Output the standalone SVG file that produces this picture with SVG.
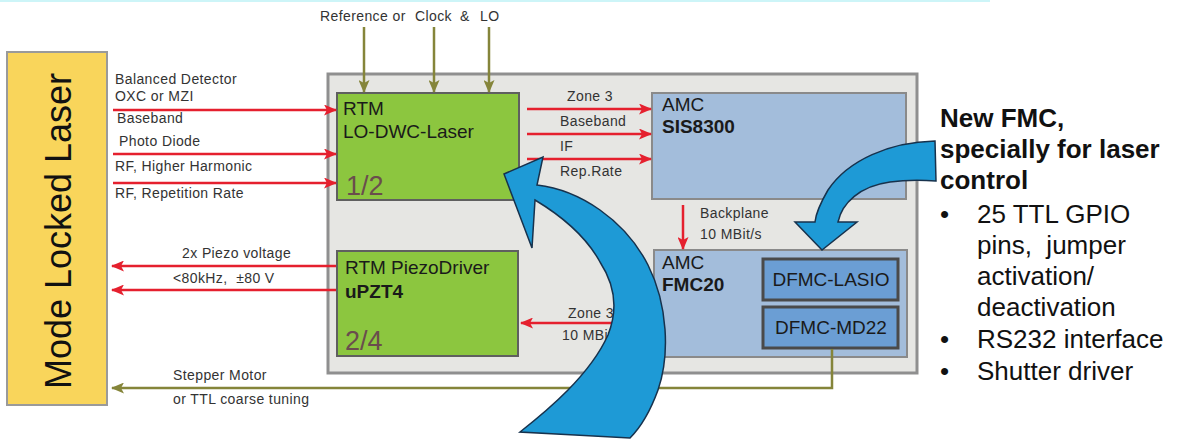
<svg xmlns="http://www.w3.org/2000/svg" width="1181" height="443" viewBox="0 0 1181 443">
<defs>
<style>
.lbl{font-family:"Liberation Sans",Arial,sans-serif;font-size:14px;letter-spacing:0.4px;fill:#333}
.box{font-family:"Liberation Sans",Arial,sans-serif;font-size:19px;fill:#1a1a1a}
.b{font-weight:bold}
.num{font-family:"Liberation Sans",Arial,sans-serif;font-size:27px;fill:#6a4d4d}
.side{font-family:"Liberation Sans",Arial,sans-serif;font-size:26px;fill:#111}
.pre{white-space:pre}
.red{stroke:#E5202E;stroke-width:2.5;fill:none}
.olive{stroke:#85853A;stroke-width:2.5;fill:none}
.big{fill:#1E9AD6;stroke:#17324d;stroke-width:1.5}
</style>
<marker id="ar" viewBox="0 0 13 11" refX="12" refY="5.5" markerWidth="13" markerHeight="11" markerUnits="userSpaceOnUse" orient="auto"><path d="M0,0 L13,5.5 L0,11 L3,5.5 z" fill="#E5202E"/></marker>
<marker id="ao" viewBox="0 0 13 11" refX="12" refY="5.5" markerWidth="13" markerHeight="11" markerUnits="userSpaceOnUse" orient="auto"><path d="M0,0 L13,5.5 L0,11 L3,5.5 z" fill="#85853A"/></marker>
</defs>
<rect x="0" y="0" width="1181" height="443" fill="#ffffff"/>
<rect x="0" y="0" width="990" height="2" fill="#cdf5f8"/>

<g id="laser">
<rect x="7" y="52" width="100" height="353" fill="#F9D55B" stroke="#9a9a9a" stroke-width="2"/>
<text transform="translate(71,231) rotate(-90)" text-anchor="middle" font-family="Liberation Sans, Arial, sans-serif" font-size="36" fill="#111">Mode Locked Laser</text>
</g>

<g id="crate">
<rect x="328" y="74" width="589" height="299" fill="#E6E6E3" stroke="#8f8f8f" stroke-width="3"/>
</g>

<g id="rtm-lo">
<rect x="337" y="93" width="182" height="107" fill="#8CC63F" stroke="#5f5f5f" stroke-width="2"/>
<text class="box" x="343" y="115">RTM</text>
<text class="box" x="343" y="138">LO-DWC-Laser</text>
<text class="num" x="346" y="195">1/2</text>
</g>

<g id="rtm-piezo">
<rect x="337" y="251" width="181" height="105" fill="#8CC63F" stroke="#5f5f5f" stroke-width="2"/>
<text class="box" x="345" y="274">RTM PiezoDriver</text>
<text class="box b" x="345" y="298">uPZT4</text>
<text class="num" x="345" y="350">2/4</text>
</g>

<g id="amc-sis">
<rect x="652" y="93" width="254" height="106" fill="#A3BDDB" stroke="#8a8a8a" stroke-width="2"/>
<text class="box" x="662" y="111">AMC</text>
<text class="box b" x="662" y="133">SIS8300</text>
</g>

<g id="amc-fmc">
<rect x="654" y="250" width="253" height="107" fill="#A3BDDB" stroke="#8a8a8a" stroke-width="2"/>
<text class="box" x="662" y="269">AMC</text>
<text class="box b" x="662" y="291">FMC20</text>
</g>

<g id="dfmc-lasio">
<rect x="763" y="259" width="135" height="41" fill="#6B9ED4" stroke="#4a4a4a" stroke-width="3"/>
<text class="box" x="831" y="286" text-anchor="middle">DFMC-LASIO</text>
</g>

<g id="dfmc-md22">
<rect x="763" y="307" width="135" height="41" fill="#6B9ED4" stroke="#4a4a4a" stroke-width="3"/>
<text class="box" x="831" y="334" text-anchor="middle">DFMC-MD22</text>
</g>

<g id="connectors">
<line class="olive" x1="364" y1="27" x2="364" y2="92" marker-end="url(#ao)"/>
<line class="olive" x1="434" y1="27" x2="434" y2="92" marker-end="url(#ao)"/>
<line class="olive" x1="489" y1="27" x2="489" y2="92" marker-end="url(#ao)"/>
<line class="red" x1="113" y1="110" x2="336" y2="110" marker-end="url(#ar)"/>
<line class="red" x1="113" y1="154" x2="336" y2="154" marker-end="url(#ar)"/>
<line class="red" x1="113" y1="183" x2="336" y2="183" marker-end="url(#ar)"/>
<line class="red" x1="527" y1="109" x2="651" y2="109" marker-end="url(#ar)"/>
<line class="red" x1="527" y1="134" x2="651" y2="134" marker-end="url(#ar)"/>
<line class="red" x1="527" y1="159" x2="651" y2="159" marker-end="url(#ar)"/>
<line class="red" x1="683" y1="205" x2="683" y2="249" marker-end="url(#ar)"/>
<line class="red" x1="653" y1="323" x2="521" y2="323" marker-end="url(#ar)"/>
<line class="red" x1="336" y1="266" x2="112" y2="266" marker-end="url(#ar)"/>
<line class="red" x1="336" y1="290" x2="112" y2="290" marker-end="url(#ar)"/>
<polyline class="olive" points="832,349 832,388 112,388" marker-end="url(#ao)"/>
</g>

<g id="labels">
<text class="lbl" x="320" y="21">Reference or</text>
<text class="lbl" x="415" y="21">Clock</text>
<text class="lbl" x="460" y="21">&amp;</text>
<text class="lbl" x="480" y="21">LO</text>
<text class="lbl" x="115" y="84">Balanced Detector</text>
<text class="lbl" x="115" y="101">OXC or MZI</text>
<text class="lbl" x="117" y="123">Baseband</text>
<text class="lbl" x="119" y="146">Photo Diode</text>
<text class="lbl" x="115" y="171">RF, Higher Harmonic</text>
<text class="lbl" x="115" y="198">RF, Repetition Rate</text>
<text class="lbl" x="590" y="101" text-anchor="middle">Zone 3</text>
<text class="lbl" x="560" y="126">Baseband</text>
<text class="lbl" x="560" y="151">IF</text>
<text class="lbl" x="560" y="176">Rep.Rate</text>
<text class="lbl" x="700" y="218">Backplane</text>
<text class="lbl" x="700" y="239">10 MBit/s</text>
<text class="lbl" x="568" y="318">Zone 3</text>
<text class="lbl" x="562" y="340">10 MBit/s</text>
<text class="lbl" x="182" y="258">2x Piezo voltage</text>
<text class="lbl pre" x="173" y="283" xml:space="preserve">&lt;80kHz,  ±80 V</text>
<text class="lbl" x="173" y="380">Stepper Motor</text>
<text class="lbl" x="173" y="404">or TTL coarse tuning</text>
</g>

<g id="big-arrow">
<path class="big" d="M504,174 L543,157 L537,185 C580,190 625,220 648,265 C668,305 670,355 658,390 C650,412 640,428 630,438 C595,436 555,434 520,432 C548,410 590,375 608,335 C618,310 615,285 600,262 C588,240 565,218 535,200 L532,248 Z"/>
</g>

<g id="fmc-arrow">
<path class="big" d="M935,141 C890,142 848,160 828,190 C821,202 816,212 815,222 L795,222 L822,250 L857,222 L838,222 C842,203 860,186 890,182 C905,180 920,180 936,181 Z"/>
</g>

<g id="notes">
<text class="side b" x="940" y="127">New FMC,</text>
<text class="side b" x="940" y="158">specially for laser</text>
<text class="side b" x="940" y="189">control</text>
<text class="side" x="940" y="223">•</text><text class="side" x="977" y="223">25 TTL GPIO</text>
<text class="side pre" x="977" y="254" xml:space="preserve">pins,  jumper</text>
<text class="side" x="977" y="285">activation/</text>
<text class="side" x="977" y="316">deactivation</text>
<text class="side" x="940" y="348">•</text><text class="side" x="977" y="348">RS232 interface</text>
<text class="side" x="940" y="380">•</text><text class="side" x="977" y="380">Shutter driver</text>
</g>
</svg>
